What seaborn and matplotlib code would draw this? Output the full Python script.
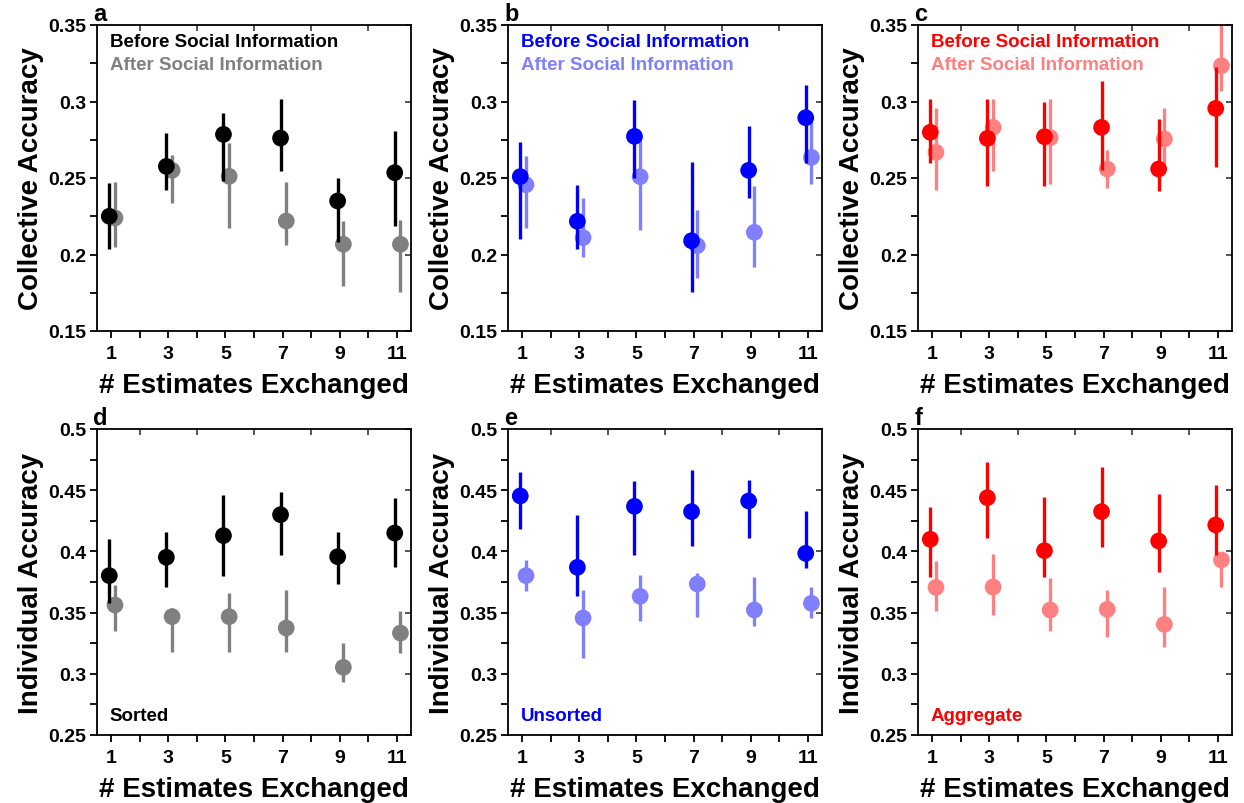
import numpy as np
import pandas as pd
import matplotlib
matplotlib.use("Agg")
import matplotlib.pyplot as plt
import seaborn as sns
from matplotlib.ticker import MultipleLocator, FixedLocator, FuncFormatter

# ---------------- data ----------------
exchanged = [1, 3, 5, 7, 9, 11]

# Collective accuracy
a_before = [0.225, 0.2576, 0.2785, 0.2761, 0.235, 0.2535]
a_before_lo = [0.2036, 0.2422, 0.2483, 0.2544, 0.208, 0.2189]
a_before_hi = [0.2465, 0.2792, 0.2923, 0.3016, 0.250, 0.2805]
a_after = [0.2239, 0.255, 0.2511, 0.2219, 0.2067, 0.2067]
a_after_lo = [0.2051, 0.2334, 0.2173, 0.2064, 0.1796, 0.1753]
a_after_hi = [0.2472, 0.265, 0.2729, 0.2472, 0.2217, 0.2224]

b_before = [0.2509, 0.2217, 0.2772, 0.2090, 0.255, 0.2894]
b_before_lo = [0.2101, 0.2036, 0.25, 0.1757, 0.2367, 0.2596]
b_before_hi = [0.2733, 0.2456, 0.3012, 0.2602, 0.2842, 0.3108]
b_after = [0.2456, 0.211, 0.2509, 0.2058, 0.2145, 0.2635]
b_after_lo = [0.2173, 0.1982, 0.2162, 0.1844, 0.1916, 0.2461]
b_after_hi = [0.2646, 0.2367, 0.2766, 0.2293, 0.2445, 0.2875]

c_before = [0.2799, 0.2759, 0.277, 0.2831, 0.2559, 0.2955]
c_before_lo = [0.2596, 0.245, 0.245, 0.2554, 0.2417, 0.257]
c_before_hi = [0.3016, 0.3016, 0.2995, 0.3136, 0.2886, 0.3223]
c_after = [0.2668, 0.2831, 0.2764, 0.2559, 0.2755, 0.3234]
c_after_lo = [0.2424, 0.2544, 0.2461, 0.2435, 0.256, 0.3071]
c_after_hi = [0.2955, 0.3016, 0.3016, 0.2685, 0.2955, 0.352]

# Individual accuracy
d_before = [0.3802, 0.3952, 0.4129, 0.43, 0.3957, 0.415]
d_before_lo = [0.3576, 0.3706, 0.3802, 0.3971, 0.3733, 0.3873]
d_before_hi = [0.4101, 0.4156, 0.4461, 0.4488, 0.4156, 0.4439]
d_after = [0.3562, 0.3467, 0.3467, 0.3374, 0.3053, 0.3333]
d_after_lo = [0.3347, 0.3175, 0.3175, 0.3175, 0.2936, 0.3167]
d_after_hi = [0.3725, 0.3535, 0.3657, 0.3685, 0.3249, 0.3516]

e_before = [0.4453, 0.387, 0.4368, 0.4325, 0.4412, 0.3984]
e_before_lo = [0.4183, 0.3633, 0.3971, 0.4041, 0.4107, 0.3864]
e_before_hi = [0.4646, 0.43, 0.4578, 0.4668, 0.4586, 0.4333]
e_after = [0.3802, 0.3456, 0.3633, 0.3734, 0.3521, 0.3576]
e_after_lo = [0.3679, 0.3126, 0.3434, 0.3461, 0.3393, 0.3456]
e_after_hi = [0.393, 0.3685, 0.3804, 0.3823, 0.3788, 0.3712]

f_before = [0.4099, 0.4439, 0.4006, 0.4325, 0.4085, 0.4216]
f_before_lo = [0.3794, 0.411, 0.3794, 0.4033, 0.3829, 0.3971]
f_before_hi = [0.436, 0.4728, 0.4447, 0.4687, 0.4469, 0.454]
f_after = [0.3706, 0.3709, 0.3521, 0.3527, 0.3404, 0.393]
f_after_lo = [0.351, 0.3483, 0.3347, 0.3303, 0.3216, 0.3706]
f_after_hi = [0.3924, 0.3979, 0.378, 0.3685, 0.3712, 0.3984]

panel_letters = ["a", "b", "c", "d", "e", "f"]
condition_labels = ["Sorted", "Unsorted", "Aggregate"]
legend_labels = ["Before Social Information", "After Social Information"]
ylabels = ["Collective Accuracy", "Individual Accuracy"]
xlabel = "# Estimates Exchanged"

# ---------------- style ----------------
sns.set_theme(style="ticks")
plt.rcParams["font.family"] = ["Liberation Sans", "DejaVu Sans"]
plt.rcParams["font.weight"] = "bold"
plt.rcParams["axes.labelweight"] = "bold"
plt.rcParams["text.color"] = "black"
plt.rcParams["axes.labelcolor"] = "black"

cols_before = ["#000000", "#0000ff", "#ff0000"]
cols_after = ["#808080", "#8080ff", "#ff8080"]

panels = [
    (a_before, a_before_lo, a_before_hi, a_after, a_after_lo, a_after_hi),
    (b_before, b_before_lo, b_before_hi, b_after, b_after_lo, b_after_hi),
    (c_before, c_before_lo, c_before_hi, c_after, c_after_lo, c_after_hi),
    (d_before, d_before_lo, d_before_hi, d_after, d_after_lo, d_after_hi),
    (e_before, e_before_lo, e_before_hi, e_after, e_after_lo, e_after_hi),
    (f_before, f_before_lo, f_before_hi, f_after, f_after_lo, f_after_hi),
]

W, H = 1244, 804
fig = plt.figure(figsize=(W / 100, H / 100), dpi=100)

lefts_px = [97, 508, 918]
width_px = 314
tops_px = [26, 430]
height_px = 306

fmt = FuncFormatter(lambda v, p: f"{v:g}")

for i, data in enumerate(panels):
    row, col = divmod(i, 3)
    l = lefts_px[col] / W
    b = 1 - (tops_px[row] + height_px) / H
    ax = fig.add_axes([l, b, width_px / W, height_px / H])
    bm, blo, bhi, am, alo, ahi = data
    x = np.array(exchanged, dtype=float)
    xb = x - 0.07
    xa = x + 0.13

    df = pd.DataFrame({
        "x": np.concatenate([xa, xb]),
        "y": np.concatenate([am, bm]),
        "lo": np.concatenate([alo, blo]),
        "hi": np.concatenate([ahi, bhi]),
        "phase": ["After"] * len(x) + ["Before"] * len(x),
    })
    pal = {"Before": cols_before[col], "After": cols_after[col]}

    # error bars (after first, then before on top)
    for ph in ["After", "Before"]:
        sub = df[df["phase"] == ph]
        ax.vlines(sub["x"], sub["lo"], sub["hi"], color=pal[ph], lw=2.4,
                  zorder=2 if ph == "After" else 4)
    sns.scatterplot(data=df[df["phase"] == "After"], x="x", y="y", color=pal["After"],
                    s=145, edgecolor="none", ax=ax, zorder=3, legend=False)
    sns.scatterplot(data=df[df["phase"] == "Before"], x="x", y="y", color=pal["Before"],
                    s=145, edgecolor="none", ax=ax, zorder=5, legend=False)

    ax.set_xlim(0.5, 11.5)
    if row == 0:
        ax.set_ylim(0.15, 0.35)
        ax.yaxis.set_major_locator(FixedLocator([0.15, 0.2, 0.25, 0.3, 0.35]))
    else:
        ax.set_ylim(0.25, 0.5)
        ax.yaxis.set_major_locator(FixedLocator([0.25, 0.3, 0.35, 0.4, 0.45, 0.5]))
    ax.yaxis.set_minor_locator(MultipleLocator(0.025))
    ax.yaxis.set_major_formatter(fmt)
    ax.xaxis.set_major_locator(FixedLocator(exchanged))
    ax.xaxis.set_minor_locator(FixedLocator([2, 4, 6, 8, 10]))

    ax.tick_params(which="both", direction="out", length=5, width=1.3,
                   labelsize=14, pad=3, colors="black")
    ax.tick_params(axis="x", which="both", pad=5)
    for lab in ax.get_xticklabels() + ax.get_yticklabels():
        lab.set_fontweight("bold")
    for sp in ax.spines.values():
        sp.set_visible(True)
        sp.set_linewidth(1.3)
        sp.set_color("black")

    # inner ticks on top and right
    sec_x = ax.secondary_xaxis("top")
    sec_x.set_xticks([2, 4, 6, 8, 10])
    sec_x.tick_params(direction="in", length=4, width=1.1, labeltop=False)
    sec_x.spines["top"].set_visible(False)
    sec_y = ax.secondary_yaxis("right")
    sec_y.set_yticks(ax.get_yticks())
    sec_y.tick_params(direction="in", length=4, width=1.1, labelright=False)
    sec_y.spines["right"].set_visible(False)

    ax.set_xlabel(xlabel, fontsize=20, fontweight="bold", labelpad=7, color="black")
    ax.set_ylabel(ylabels[row], fontsize=20, fontweight="bold", labelpad=3, color="black")

    ax.text(-0.012, 1.0, panel_letters[i], transform=ax.transAxes, ha="left",
            va="bottom", fontsize=17, fontweight="bold", color="black")

    if row == 0:
        ax.text(0.04, 0.945, legend_labels[0], transform=ax.transAxes, ha="left",
                va="center", fontsize=13.5, fontweight="bold", color=cols_before[col])
        ax.text(0.04, 0.872, legend_labels[1], transform=ax.transAxes, ha="left",
                va="center", fontsize=13.5, fontweight="bold", color=cols_after[col])
    else:
        ax.text(0.04, 0.065, condition_labels[col], transform=ax.transAxes, ha="left",
                va="center", fontsize=13.5, fontweight="bold", color=cols_before[col])

fig.savefig("out.png", dpi=100)
